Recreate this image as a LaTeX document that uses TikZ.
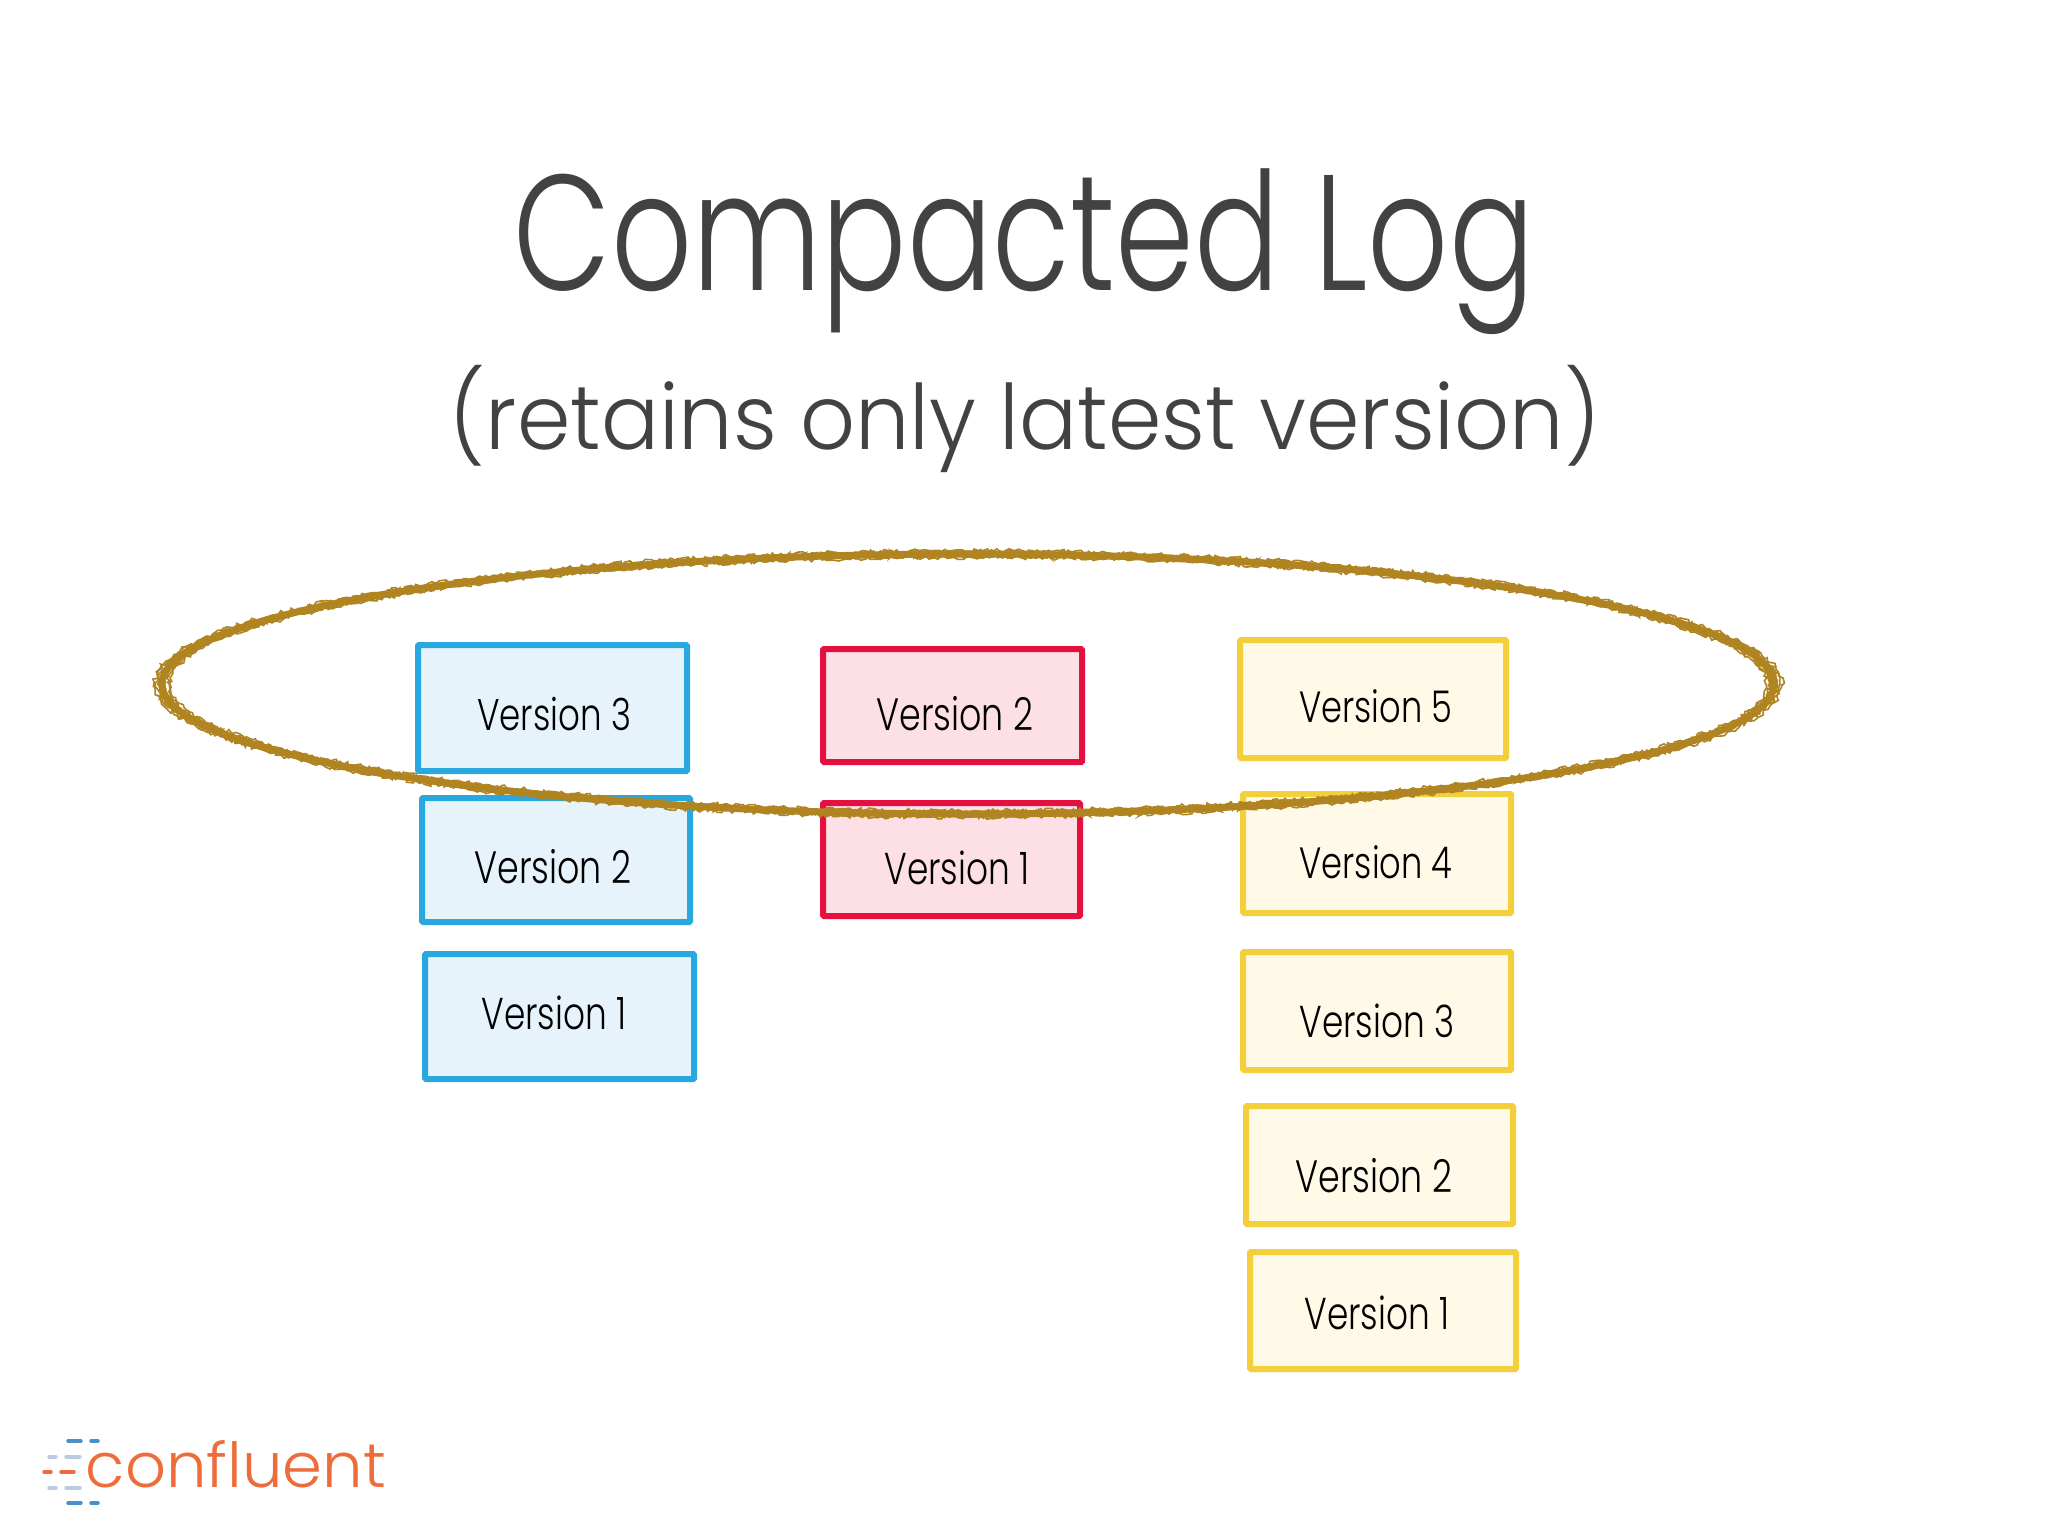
\documentclass[tikz,border=0pt]{standalone}
\usepackage{fontspec}
\usepackage{graphicx}
\setmainfont{Poppins Light}
\usetikzlibrary{decorations.pathmorphing}
\definecolor{bluel}{HTML}{29A8DF}
\definecolor{bluef}{HTML}{E6F3FB}
\definecolor{redl}{HTML}{E5103F}
\definecolor{redf}{HTML}{FDDFE6}
\definecolor{yell}{HTML}{F2CF3B}
\definecolor{yelf}{HTML}{FFF9E8}
\definecolor{ring}{HTML}{B08420}
\definecolor{titlec}{HTML}{424242}
\definecolor{conf}{HTML}{EE6C3A}
\definecolor{dashb}{HTML}{4A90C4}
\definecolor{dashl}{HTML}{BCCBE2}
\tikzset{
  x=1pt,y=-1pt,
  card/.style={line width=6pt,rounded corners=1pt},
  bluecard/.style={card,draw=bluel,fill=bluef},
  redcard/.style={card,draw=redl,fill=redf},
  yelcard/.style={card,draw=yell,fill=yelf},
  txt/.style={anchor=base,inner sep=0pt,outer sep=0pt},
  ringbase/.style={draw=ring,line width=7pt},
  ringrough/.style={draw=ring,line width=1.6pt,decorate,decoration={random steps,segment length=3.5pt,amplitude=2.4pt}},
  logodash/.style={line width=3.5pt,line cap=round},
}
\newcommand{\fitw}[3]{\scalebox{1}[#2]{\resizebox{#1pt}{!}{#3}}}
\begin{document}
\begin{tikzpicture}
\useasboundingbox (0,0) rectangle (2048,1536);
\fill[white] (0,0) rectangle (2048,1536);
% title
\node[txt,text=titlec] (title) at (1024,290) {\fitw{1021}{1.3}{Compacted Log}};
\node[txt,text=titlec] (subtitle) at (1025,449) {\fitw{1150}{1.05}{(retains only latest version)}};
% blue
\draw[bluecard] (418,645) rectangle (687,771);
\node[txt] (b3) at (554,730) {\fitw{154}{1.3}{Version 3}};
\draw[bluecard] (422,798) rectangle (690,922);
\node[txt] (b2) at (553,883) {\fitw{157}{1.3}{Version 2}};
\draw[bluecard] (425,954) rectangle (694,1079);
\node[txt] (b1) at (554,1029) {\fitw{145}{1.3}{Version 1}};
% red
\draw[redcard] (823,649) rectangle (1082,762);
\node[txt] (r2) at (955,730) {\fitw{157}{1.3}{Version 2}};
\draw[redcard] (823,803) rectangle (1080,916);
\node[txt] (r1) at (957,884) {\fitw{145}{1.3}{Version 1}};
% yellow
\draw[yelcard] (1240,640) rectangle (1506,758);
\node[txt] (y5) at (1376,722) {\fitw{153}{1.3}{Version 5}};
\draw[yelcard] (1243,794) rectangle (1511,913);
\node[txt] (y4) at (1376,878) {\fitw{153}{1.3}{Version 4}};
\draw[yelcard] (1243,952) rectangle (1511,1070);
\node[txt] (y3) at (1377,1037) {\fitw{155}{1.3}{Version 3}};
\draw[yelcard] (1246,1106) rectangle (1513,1224);
\node[txt] (y2) at (1374,1192) {\fitw{157}{1.3}{Version 2}};
\draw[yelcard] (1250,1252) rectangle (1516,1369);
\node[txt] (y1) at (1377,1329) {\fitw{145}{1.3}{Version 1}};
% ring
\draw[ringbase] (968,684) ellipse [x radius=806, y radius=130];
\pgfmathsetseed{7}
\foreach \r/\s in {-3.5/-3,-2.5/-2,-1.5/-1.5,-0.5/0.5,0.5/-0.5,1.5/1.5,2.5/2,3.5/3}{
  \draw[ringrough] (968,684) ellipse [x radius=806+2.2*\r, y radius=130+\s];
}
% logo
\node[txt,text=conf] (logo) at (236,1487) {\fitw{300}{0.97}{confluent}};
\draw[logodash,dashb] (68,1441)--(81,1441) (91,1441)--(98,1441) (68,1503)--(81,1503) (91,1503)--(98,1503);
\draw[logodash,dashl] (49,1457)--(56,1457) (66,1457)--(80,1457) (49,1488)--(56,1488) (66,1488)--(80,1488);
\draw[logodash,conf] (44,1472)--(51,1472) (61,1472)--(74,1472);
\end{tikzpicture}
\end{document}
